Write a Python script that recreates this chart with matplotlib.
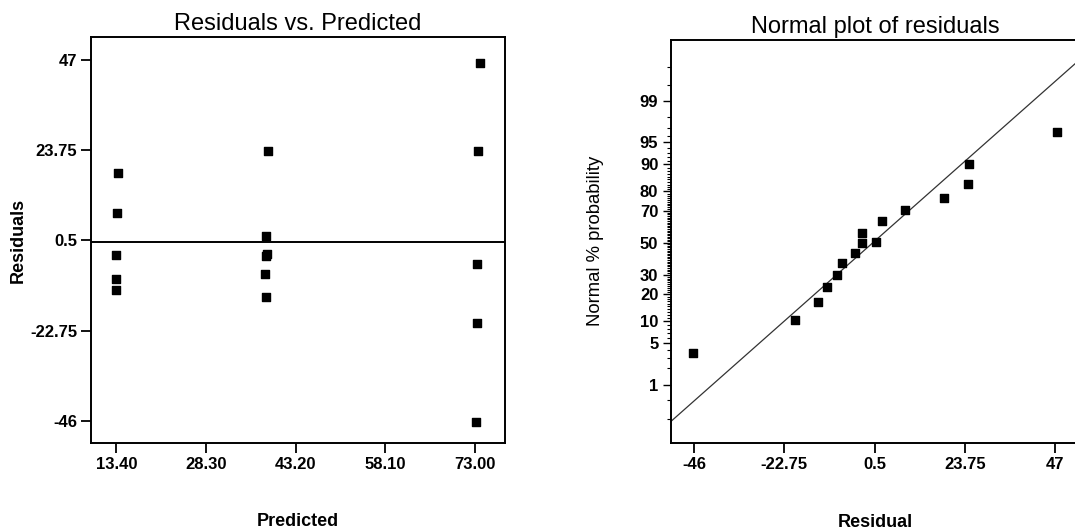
import matplotlib
matplotlib.use("Agg")
import matplotlib.pyplot as plt
from statistics import NormalDist

plt.rcParams['font.family'] = ['Liberation Sans', 'DejaVu Sans']

# ---- data: Residuals vs Predicted ----
pred_values = [13.6, 13.5, 13.4, 13.3, 13.3,
               38.6, 38.3, 38.4, 38.2, 38.1, 38.2,
               73.8, 73.6, 73.4, 73.4, 73.2]
resid_values = [17.9, 7.6, -3.3, -9.5, -12.4,
                23.6, 1.6, -3.0, -3.5, -8.1, -14.2,
                46.3, 23.6, -5.6, -20.9, -46.4]
pred_ticks = [13.40, 28.30, 43.20, 58.10, 73.00]
pred_ticklabels = ["13.40", "28.30", "43.20", "58.10", "73.00"]
resid_ticks = [47, 23.75, 0.5, -22.75, -46]
resid_ticklabels = ["47", "23.75", "0.5", "-22.75", "-46"]

# ---- data: Normal plot of residuals ----
np_resid = [-46.2, -20.0, -14.0, -11.8, -9.2, -7.9, -4.5, -2.8, -2.8,
            0.8, 2.4, 8.2, 18.3, 24.6, 24.8, 47.6]
np_prob = [3.6, 10.4, 16.8, 23.6, 29.8, 36.9, 43.3, 50.0, 56.7,
           50.7, 63.8, 70.2, 76.6, 83.2, 90.0, 96.5]
prob_ticks = [1, 5, 10, 20, 30, 50, 70, 80, 90, 95, 99]
prob_minor = [0.2, 0.5] + list(range(1, 100)) + [99.5, 99.8]
np_xticks = [-46, -22.75, 0.5, 23.75, 47]
np_xticklabels = ["-46", "-22.75", "0.5", "23.75", "47"]
line_center = 0.0
line_scale = 17.8

nd = NormalDist()
def z(p):
    return nd.inv_cdf(p / 100.0)

fig = plt.figure(figsize=(10.75, 5.31), dpi=100)

tick_font = dict(fontsize=12, fontweight='bold')

# ---------- left plot ----------
ax1 = fig.add_axes([0.0847, 0.166, 0.385, 0.764])
ax1.scatter(pred_values, resid_values, marker='s', s=38, color='black', zorder=3)
ax1.axhline(0, color='black', lw=1.4)
ax1.set_xlim(9.2, 78.0)
ax1.set_ylim(-51.7, 52.9)
ax1.set_xticks(pred_ticks)
ax1.set_xticklabels(pred_ticklabels, **tick_font)
ax1.set_yticks(resid_ticks)
ax1.set_yticklabels(resid_ticklabels, **tick_font)
ax1.tick_params(direction='out', length=7, width=1.3, pad=3)
for s in ax1.spines.values():
    s.set_linewidth(1.4)
ax1.set_title("Residuals vs. Predicted", fontsize=17, pad=5)
ax1.set_xlabel("Predicted", fontsize=13, fontweight='bold')
ax1.set_ylabel("Residuals", fontsize=13, fontweight='bold')
ax1.xaxis.set_label_coords(0.5, -0.172)
ax1.yaxis.set_label_coords(-0.155, 0.5)

# ---------- right plot ----------
ax2 = fig.add_axes([0.624, 0.166, 0.381, 0.759])
ax2.scatter(np_resid, [z(p) for p in np_prob], marker='s', s=38, color='black', zorder=3)
ax2.axline((line_center, 0.0), slope=1.0 / line_scale, color='#333333', lw=0.9)
ax2.set_xlim(-52.0, 53.5)
ax2.set_ylim(-3.27, 3.32)
ax2.set_xticks(np_xticks)
ax2.set_xticklabels(np_xticklabels, **tick_font)
ax2.set_yticks([z(p) for p in prob_ticks])
ax2.set_yticklabels([str(p) for p in prob_ticks], **tick_font)
ax2.set_yticks([z(p) for p in prob_minor if p not in prob_ticks], minor=True)
ax2.tick_params(axis='y', which='major', direction='out', length=6, width=1.0, pad=3)
ax2.tick_params(axis='y', which='minor', direction='out', length=3, width=0.8)
ax2.tick_params(axis='x', direction='out', length=7, width=1.3, pad=3)
for s in ax2.spines.values():
    s.set_linewidth(1.4)
ax2.set_title("Normal plot of residuals", fontsize=17, pad=5)
ax2.set_xlabel("Residual", fontsize=13, fontweight='bold')
ax2.set_ylabel("Normal % probability", fontsize=13.3)
ax2.xaxis.set_label_coords(0.5, -0.176)
ax2.yaxis.set_label_coords(-0.164, 0.5)

fig.savefig("out.png", dpi=100)
